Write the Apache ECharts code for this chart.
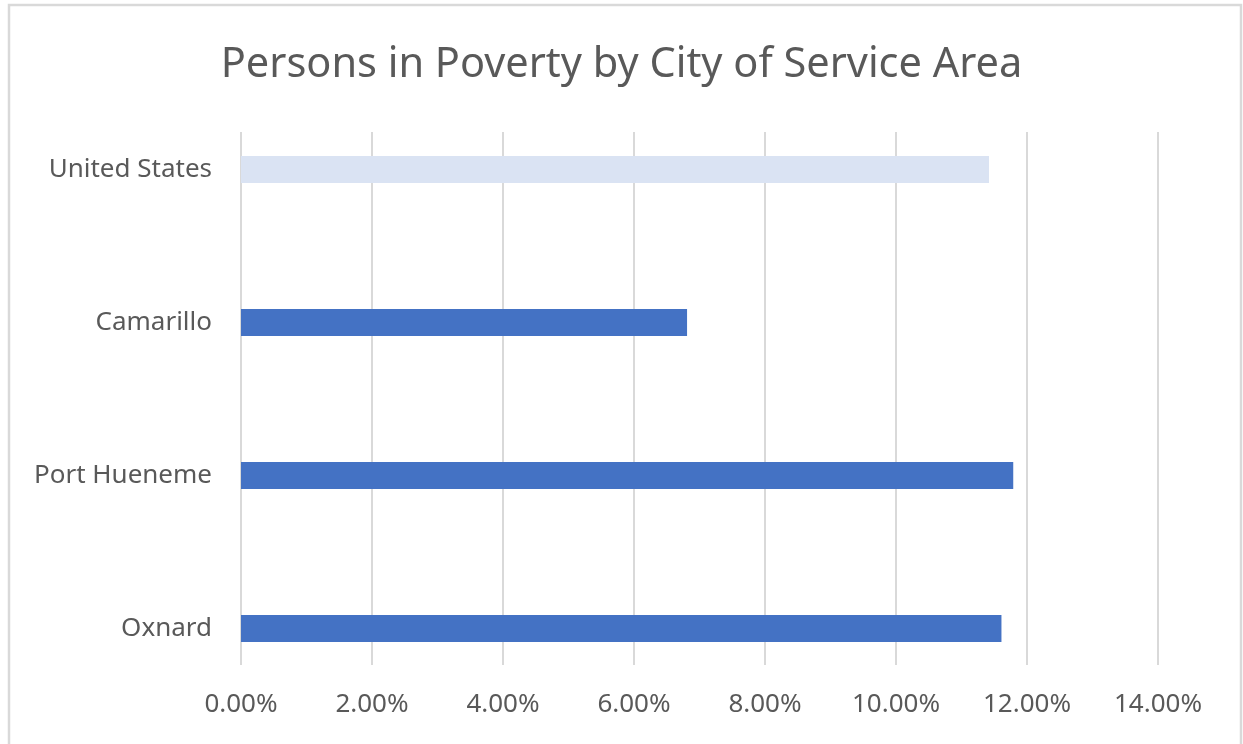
<!DOCTYPE html>
<html>
<head>
<meta charset="utf-8">
<script src="https://cdn.jsdelivr.net/npm/echarts@6/dist/echarts.min.js"></script>
<style>
  html, body { margin: 0; padding: 0; background: #ffffff; }
  #chart { width: 1243px; height: 744px; }
</style>
</head>
<body>
<div id="chart"></div>
<script>
// Share of persons in poverty, by area (percent)
const categories = ['Oxnard', 'Port Hueneme', 'Camarillo', 'United States'];
const povertyRates = [11.61, 11.79, 6.81, 11.42];
const tickLabels = ['0.00%', '2.00%', '4.00%', '6.00%', '8.00%', '10.00%', '12.00%', '14.00%'];
const titleText = 'Persons in Poverty by City of Service Area';

const FONT = '"Noto Sans", "Open Sans", sans-serif';
const TEXT_COLOR = '#595959';
const GRID_COLOR = '#d9d9d9';
const CITY_BLUE = '#4472C4';
const NATION_BLUE = '#DAE3F3';

const chart = echarts.init(document.getElementById('chart'));

const axisMax = 14;
const axisInterval = 2;

chart.setOption({
  backgroundColor: '#ffffff',
  animation: false,
  title: {
    text: titleText,
    left: 'center',
    top: 39,
    textStyle: { fontFamily: FONT, fontSize: 41.5, fontWeight: 'normal', color: TEXT_COLOR }
  },
  graphic: [{
    type: 'rect',
    shape: { x: 9, y: 5, width: 1232, height: 760 },
    style: { fill: 'none', stroke: GRID_COLOR, lineWidth: 2.5 },
    silent: true
  }],
  grid: [
    // bars
    { left: 241, right: 85, top: 93, bottom: 39 },
    // gridlines and value labels
    { left: 241, right: 85, top: 132, bottom: 79 }
  ],
  xAxis: [
    { gridIndex: 0, type: 'value', min: 0, max: axisMax, interval: axisInterval, show: false },
    {
      gridIndex: 1, type: 'value', min: 0, max: axisMax, interval: axisInterval,
      axisLine: { show: false }, axisTick: { show: false },
      splitLine: { show: true, lineStyle: { color: GRID_COLOR, width: 2 } },
      axisLabel: {
        margin: 27,
        fontFamily: FONT, fontSize: 26, color: TEXT_COLOR,
        formatter: v => tickLabels[Math.round(v / axisInterval)]
      }
    }
  ],
  yAxis: [
    {
      gridIndex: 0, type: 'category', data: categories,
      axisLine: { show: false }, axisTick: { show: false }, splitLine: { show: false },
      axisLabel: { margin: 29, fontFamily: FONT, fontSize: 26, color: TEXT_COLOR }
    },
    { gridIndex: 1, type: 'category', data: categories, show: false }
  ],
  series: [{
    type: 'bar',
    xAxisIndex: 0,
    yAxisIndex: 0,
    data: povertyRates,
    barWidth: 27,
    itemStyle: {
      color: p => p.name === 'United States' ? NATION_BLUE : CITY_BLUE
    },
    z: 3
  }]
});
</script>
</body>
</html>
